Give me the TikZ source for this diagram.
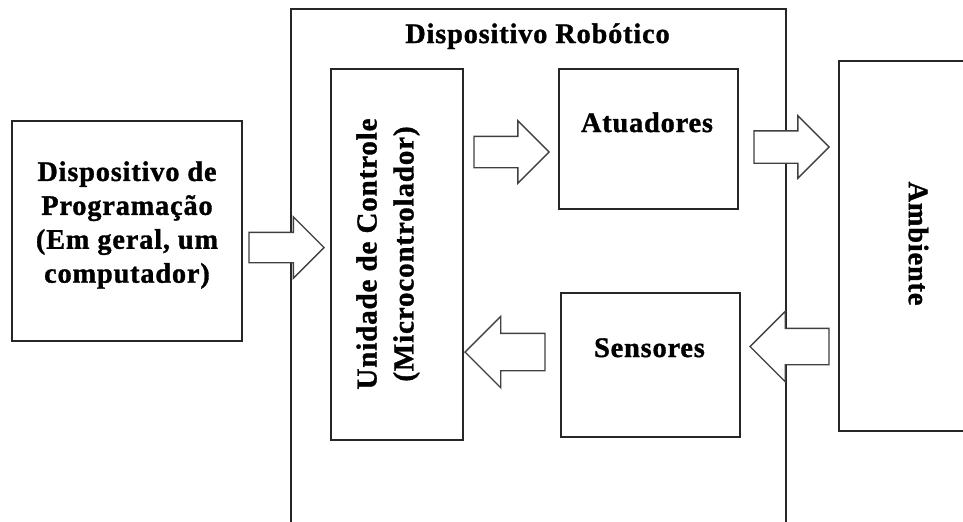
\documentclass[tikz,border=0pt]{standalone}
\usepackage{fontspec}
\setmainfont{Liberation Serif}[LetterSpace=3, FakeBold=1.2]
\usetikzlibrary{fit,shapes.arrows}

\tikzset{
  box/.style={draw=black!85, line width=0.9pt, inner sep=0pt},
  rotulo/.style={font=\bfseries\fontsize{16.1}{19.3}\selectfont, align=center, inner sep=0pt},
  bloco/.style={single arrow, draw=black!75, fill=white, line width=0.8pt,
    inner xsep=0pt, minimum width=0pt, single arrow tip angle=90, anchor=tip},
}

\begin{document}
\begin{tikzpicture}[x=0.02cm, y=-0.02cm]
    \useasboundingbox (0,0) rectangle (963,521);
    \clip (0,0) rectangle (963,521);

    % Caixas
    \node[box, fit={(291,9) (786,545)}] (robo) {};
    \node[box, fit={(12,121) (242,341)}] (prog) {};
    \node[box, fit={(331,69) (463,440)}] (ctrl) {};
    \node[box, fit={(559,69) (738,209)}] (atu) {};
    \node[box, fit={(561,293) (740,437)}] (sens) {};
    \node[box, fit={(839,61) (990,431)}] (amb) {};

    % Textos
    \node[rotulo, anchor=base] (trobo) at (537.5,43) {Dispositivo Robótico};
    \node[rotulo] (tprog) at (127,225) {Dispositivo de\\Programação\\(Em geral, um\\computador)};
    \node[rotulo, rotate=90, font=\bfseries\fontsize{16.5}{21}\selectfont] (tctrl) at (388,254) {Unidade de Controle\\(Microcontrolador)};
    \node[rotulo, anchor=base] (tatu) at (647,132) {Atuadores};
    \node[rotulo, anchor=base] (tsens) at (649.5,357) {Sensores};
    \node[rotulo, rotate=-90] (tamb) at (918.5,243.5) {Ambiente};

    % Setas
    \node[bloco, minimum height=75*0.02cm, inner ysep=14.5*0.02cm,
      single arrow head extend=15.5*0.02cm] (seta1) at (325,247.5) {};
    \node[bloco, minimum height=75*0.02cm, inner ysep=15*0.02cm,
      single arrow head extend=15.5*0.02cm] (seta2) at (550,152) {};
    \node[bloco, minimum height=75*0.02cm, inner ysep=15.5*0.02cm,
      single arrow head extend=15*0.02cm] (seta3) at (830,147) {};
    \node[bloco, shape border rotate=180, minimum height=79*0.02cm, inner ysep=17.5*0.02cm,
      single arrow head extend=17*0.02cm] (seta4) at (749,346.5) {};
    \node[bloco, shape border rotate=180, minimum height=80*0.02cm, inner ysep=18*0.02cm,
      single arrow head extend=17*0.02cm] (seta5) at (464,352) {};
\end{tikzpicture}
\end{document}
